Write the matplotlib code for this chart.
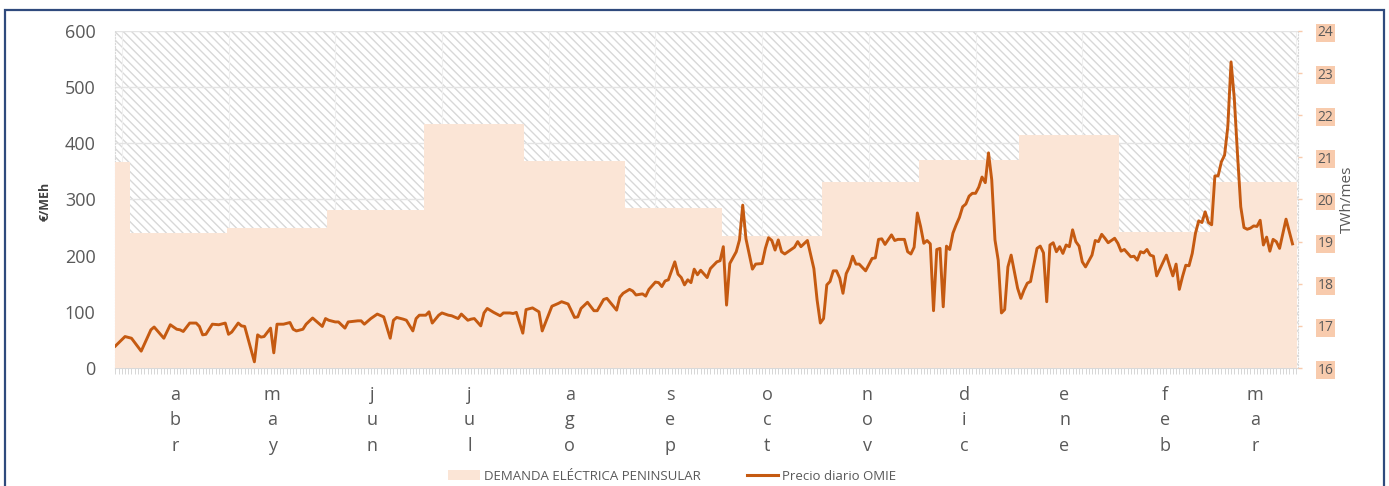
import matplotlib
matplotlib.use("Agg")
import matplotlib.pyplot as plt
from matplotlib.patches import Rectangle, Patch
from matplotlib.lines import Line2D
from matplotlib.ticker import MultipleLocator

# Precio diario OMIE (EUR/MWh); dia = dias desde el 27/03/2021
dia = [0, 3, 5, 8, 11, 12, 15, 17, 19, 20, 21, 23, 25, 26, 27, 28, 30, 32, 34, 35,
       36, 38, 39, 40, 43, 44, 45, 46, 48, 49, 50, 52, 54, 55, 56, 58, 59, 61, 64, 65,
       66, 68, 69, 71, 72, 75, 76, 77, 79, 81, 83, 85, 86, 87, 89, 90, 92, 93, 94, 96,
       97, 98, 100, 101, 103, 104, 106, 107, 109, 110, 111, 113, 114, 115, 117, 119, 120, 122, 123, 124,
       126, 127, 129, 131, 132, 135, 137, 138, 140, 142, 143, 144, 146, 148, 149, 151, 152, 155, 156, 157,
       159, 160, 161, 163, 164, 165, 167, 168, 169, 170, 171, 173, 174, 175, 176, 177, 178, 179, 180, 181,
       183, 184, 186, 187, 188, 189, 190, 192, 193, 194, 195, 197, 198, 200, 201, 202, 203, 204, 205, 206,
       207, 208, 209, 210, 211, 212, 214, 216, 217, 218, 219, 220, 221, 222, 223, 224, 225, 226, 227, 228,
       229, 230, 232, 234, 235, 236, 237, 238, 240, 241, 242, 244, 245, 246, 247, 248, 249, 250, 251, 252,
       253, 254, 255, 256, 257, 258, 259, 260, 261, 262, 263, 264, 265, 266, 267, 268, 269, 270, 271, 272,
       273, 274, 275, 276, 277, 279, 280, 281, 282, 283, 285, 286, 287, 288, 289, 290, 291, 292, 293, 294,
       295, 296, 297, 298, 299, 300, 302, 303, 304, 305, 306, 307, 309, 310, 311, 312, 314, 315, 316, 317,
       318, 319, 320, 321, 322, 325, 326, 327, 328, 329, 330, 331, 332, 333, 334, 335, 336, 337, 338, 339,
       340, 341, 342, 343, 344, 345, 346, 347, 348, 349, 350, 351, 352, 353, 354, 355, 356, 357, 358, 359,
       360, 362, 364]
precio = [39, 56, 53, 30, 68, 73, 53, 77, 69, 68, 65, 80, 80, 74, 59, 60, 78, 77, 80, 60,
          64, 80, 75, 74, 11, 59, 55, 56, 71, 27, 78, 78, 81, 69, 66, 69, 78, 89, 74, 88,
          85, 82, 82, 71, 82, 84, 84, 78, 88, 96, 91, 53, 85, 90, 87, 85, 66, 88, 94, 94,
          100, 80, 94, 98, 94, 93, 88, 96, 85, 87, 88, 75, 98, 106, 99, 93, 98, 98, 97, 99,
          62, 104, 107, 100, 66, 110, 115, 118, 114, 90, 91, 106, 117, 102, 102, 122, 124, 103, 126, 133,
          140, 137, 130, 132, 128, 140, 153, 152, 145, 155, 157, 189, 167, 161, 148, 157, 152, 176, 166, 174,
          161, 177, 189, 191, 216, 112, 186, 207, 228, 290, 230, 176, 185, 186, 213, 232, 227, 210, 228, 207,
          203, 207, 211, 215, 225, 216, 227, 177, 121, 80, 88, 148, 154, 173, 173, 160, 133, 168, 180, 199,
          185, 185, 173, 195, 196, 229, 230, 220, 237, 227, 229, 229, 207, 203, 215, 276, 252, 222, 227, 221,
          102, 211, 213, 109, 217, 211, 240, 255, 268, 287, 292, 306, 311, 311, 322, 340, 330, 383, 335, 228,
          192, 98, 104, 180, 201, 142, 124, 139, 151, 154, 213, 217, 205, 118, 219, 223, 207, 216, 204, 219,
          216, 246, 225, 217, 189, 180, 201, 227, 225, 238, 231, 223, 231, 222, 208, 211, 198, 199, 192, 207,
          205, 211, 201, 199, 164, 201, 182, 164, 185, 140, 163, 183, 182, 204, 240, 262, 259, 278, 259, 255,
          342, 342, 367, 379, 430, 545, 480, 380, 287, 250, 247, 249, 253, 252, 263, 219, 233, 208, 229, 225,
          213, 265, 221]

# Demanda electrica peninsular mensual (TWh/mes)
meses = ["abr", "may", "jun", "jul", "ago", "sep", "oct", "nov", "dic", "ene", "feb", "mar"]
inicio_mes = [5, 35, 66, 96, 127, 158, 188, 219, 249, 280, 311, 339]
demanda_mar21 = 20.89
demanda = [19.21, 19.32, 19.75, 21.79, 20.91, 19.80, 19.13, 20.42, 20.94, 21.53, 19.22, 20.42]

NARANJA = "#C55A11"
MELOCOTON = "#FBE5D6"
SALMON = "#F8CBAD"
GRIS = "#595959"

plt.rcParams["font.family"] = ["Open Sans", "DejaVu Sans"]
plt.rcParams["hatch.linewidth"] = 1.0

W, H = 1389, 486
fig = plt.figure(figsize=(W / 100, H / 100), dpi=100)
ax = fig.add_axes([115 / W, 1 - 368 / H, (1298 - 115) / W, (368 - 31) / H])
ax2 = ax.twinx()

x0, x1 = -0.1, 365.7
ax.set_xlim(x0, x1)

# fondo rayado
ax.add_patch(Rectangle((0, 0), 1, 1, transform=ax.transAxes, facecolor="white",
                       edgecolor="#d8d8d8", hatch="\\\\\\\\", linewidth=0, zorder=0))
ax.set_axisbelow(True)
ax.yaxis.grid(True, color="#e4e4e4", linewidth=1.0, zorder=0.5)
for d in range(2, 366, 33):
    ax.axvline(d, color="#efefef", linewidth=0.8, zorder=0.5)

# area de demanda (escalonada por mes)
bordes = [x0] + [s - 0.5 for s in inicio_mes] + [365.3]
valores = [demanda_mar21] + demanda + [demanda[-1]]
ax2.fill_between(bordes, valores, 16, step="post", facecolor=MELOCOTON, linewidth=0, zorder=1)

# precio diario
ax2.plot(dia, precio, color=NARANJA, linewidth=2.1, transform=ax.transData,
         solid_joinstyle="round", zorder=3)

ax.set_ylim(0, 600)
ax2.set_ylim(16, 24)
ax.set_yticks(range(0, 601, 100))
ax2.set_yticks(range(16, 25))

# eje x: etiquetas de mes en vertical, marcas diarias
ax.set_xticks([s + 13.5 for s in inicio_mes])
ax.set_xticklabels(["\n".join(m) for m in meses], linespacing=1.52)
ax.xaxis.set_minor_locator(MultipleLocator(1))
ax.tick_params(axis="x", which="major", length=0, pad=13, labelsize=13, labelcolor=GRIS)
ax.tick_params(axis="x", which="minor", length=4, width=0.6, color="#d0d0d0")
ax.tick_params(axis="y", length=0, pad=14, labelsize=13, labelcolor=GRIS)
ax2.tick_params(axis="y", length=3, width=1, color=SALMON, pad=11, labelsize=10, labelcolor=GRIS)
for lab in ax2.get_yticklabels():
    lab.set_bbox(dict(boxstyle="square,pad=0.1", facecolor=SALMON, edgecolor="none"))

for s in ax2.spines.values():
    s.set_visible(False)
ax.spines["top"].set_visible(False)
ax.spines["bottom"].set_color("#d9d9d9")
for side in ("left", "right"):
    ax.spines[side].set_color("#d9d9d9")
    ax.spines[side].set_linestyle(":")

fig.text(45.5 / W, 1 - 201 / H, "€/MEh", rotation=90, ha="center", va="center",
         fontsize=9, fontweight="bold", color="#404040")
fig.text(1347 / W, 1 - 199 / H, "TWh/mes", rotation=90, ha="center", va="center",
         fontsize=11, color=GRIS)

handles = [Patch(facecolor=MELOCOTON, edgecolor="none"),
           Line2D([], [], color=NARANJA, linewidth=2.2)]
fig.legend(handles, ["DEMANDA ELÉCTRICA PENINSULAR", "Precio diario OMIE"],
           loc="center left", bbox_to_anchor=(448 / W, 1 - 476 / H), ncol=2, frameon=False,
           fontsize=9.5, handlelength=2.4, handleheight=0.75, handletextpad=0.3,
           columnspacing=3.5, labelcolor=GRIS, borderaxespad=0, borderpad=0)

# marco del grafico
fig.add_artist(Rectangle((5 / W, -0.1), (1384 - 5) / W, 1.1 - 10 / H, transform=fig.transFigure,
                         fill=False, edgecolor="#2F4A7D", linewidth=1.6))

fig.savefig("out.png", dpi=100)
